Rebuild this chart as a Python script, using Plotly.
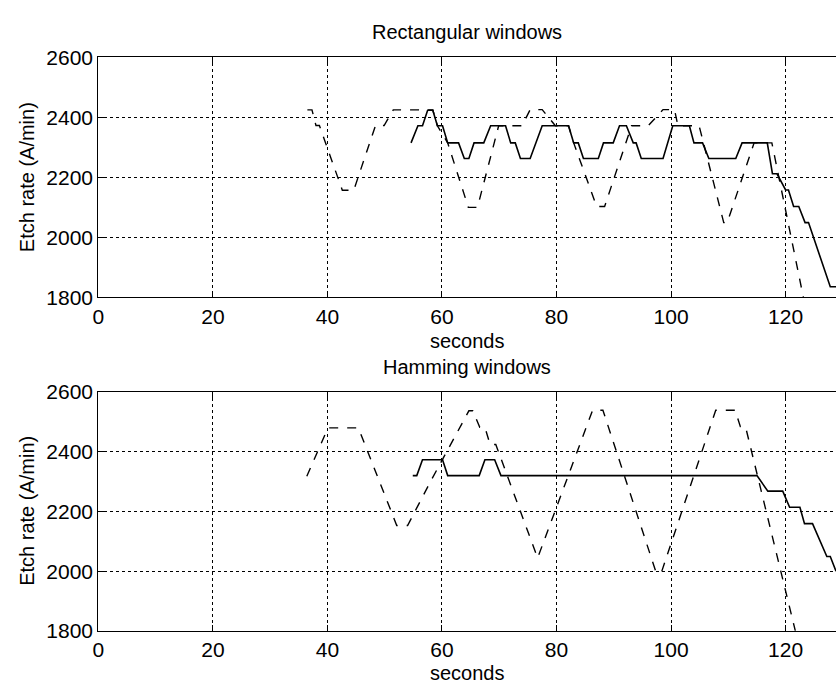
import plotly.graph_objects as go

# ---- Data ----
# Rectangular windows - solid
rect_solid_t = [54.6, 55.8, 56.6, 57.5, 58.4, 59.2, 60.1, 61.0, 62.9, 63.9, 64.7, 65.6, 67.3, 68.5, 71.1,
                72.0, 72.8, 73.7, 75.4, 77.5, 82.1, 83.0, 83.8, 84.7, 87.3, 88.2, 89.9, 91.0, 92.2,
                93.4, 93.9, 94.8, 98.6, 100.3, 103.2, 104.0, 105.5, 106.6, 111.3, 112.4, 116.8,
                117.7, 118.5, 120.0, 120.5, 121.4, 122.3, 123.4, 124.0, 127.8, 128.8]
rect_solid_v = [2315, 2372, 2372, 2424, 2424, 2372, 2372, 2315, 2315, 2263, 2263, 2315, 2315, 2372, 2372,
                2315, 2315, 2263, 2263, 2372, 2372, 2315, 2315, 2263, 2263, 2315, 2315, 2372, 2372,
                2315, 2315, 2263, 2263, 2372, 2372, 2315, 2315, 2263, 2263, 2315, 2315,
                2212, 2212, 2158, 2158, 2103, 2103, 2049, 2049, 1835, 1835]
# Rectangular windows - dashed
rect_dash_t = [36.5, 37.3, 38.0, 38.6, 42.6, 44.6, 48.4, 49.9, 51.5, 55.0, 58.4, 59.2, 61.0, 64.6, 66.2,
               69.9, 74.0, 75.4, 77.5, 79.8, 82.1, 83.0, 87.0, 88.4, 93.1, 96.0, 98.6, 100.6, 101.2,
               104.9, 109.2, 109.8, 114.5, 117.6, 123.1]
rect_dash_v = [2425, 2425, 2373, 2373, 2157, 2157, 2373, 2373, 2425, 2425, 2425, 2372, 2315, 2100, 2100,
               2372, 2372, 2426, 2426, 2372, 2372, 2315, 2103, 2103, 2372, 2372, 2426, 2426, 2372,
               2372, 2049, 2049, 2315, 2315, 1800]
# Hamming windows - solid
ham_solid_t = [54.9, 55.6, 56.6, 60.1, 61.0, 66.5, 67.5, 69.2, 70.3, 115.0, 116.9, 119.5, 120.7, 122.5,
               123.3, 124.7, 127.2, 127.8, 128.8]
ham_solid_v = [2320, 2320, 2373, 2373, 2320, 2320, 2373, 2373, 2320, 2320, 2268, 2268, 2214, 2214,
               2159, 2159, 2049, 2049, 2000]
# Hamming windows - dashed
ham_dash_t = [36.4, 40.1, 45.4, 52.1, 54.0, 58.0, 64.7, 65.4, 66.6, 67.5, 68.4, 69.4, 76.7, 86.3, 88.1,
              97.4, 98.3, 107.8, 111.2, 112.1, 113.0, 121.7]
ham_dash_v = [2318, 2480, 2480, 2153, 2153, 2300, 2537, 2537, 2482, 2482, 2424, 2424, 2044, 2539, 2539,
              1995, 1995, 2539, 2539, 2484, 2484, 1800]

x_ticks = [0, 20, 40, 60, 80, 100, 120]
y_ticks = [1800, 2000, 2200, 2400, 2600]

FONT = "Liberation Sans, Arial, Helvetica, sans-serif"
TICK_SIZE = 21
TEXT_SIZE = 20

fig = go.Figure()
line_solid = dict(color="black", width=1.6)
line_dash = dict(color="black", width=1.4, dash="dash")

fig.add_trace(go.Scatter(x=rect_solid_t, y=rect_solid_v, mode="lines", line=line_solid, xaxis="x", yaxis="y", showlegend=False))
fig.add_trace(go.Scatter(x=rect_dash_t, y=rect_dash_v, mode="lines", line=line_dash, xaxis="x", yaxis="y", showlegend=False))
fig.add_trace(go.Scatter(x=ham_solid_t, y=ham_solid_v, mode="lines", line=line_solid, xaxis="x2", yaxis="y2", showlegend=False))
fig.add_trace(go.Scatter(x=ham_dash_t, y=ham_dash_v, mode="lines", line=line_dash, xaxis="x2", yaxis="y2", showlegend=False))

W, H = 836, 696
x0 = 93 / W
top_dom = [1 - 295 / H, 1 - 47 / H]
bot_dom = [1 - 640 / H, 1 - 393 / H]

def xax(domain_anchor):
    return dict(range=[0, 128.8], tickvals=x_ticks, ticks="inside", ticklen=6, tickcolor="black",
                showline=True, linecolor="black", linewidth=1.2, mirror="ticks",
                showgrid=True, gridcolor="black", griddash="dot", gridwidth=1,
                zeroline=False, domain=[x0, 1.0], anchor=domain_anchor,
                tickfont=dict(family=FONT, size=TICK_SIZE, color="black"))

def yax(anchor, dom):
    return dict(range=[1800, 2600], tickvals=y_ticks, ticks="inside", ticklen=6, tickcolor="black",
                showline=True, linecolor="black", linewidth=1.2,
                showgrid=True, gridcolor="black", griddash="dot", gridwidth=1,
                zeroline=False, domain=dom, anchor=anchor,
                tickfont=dict(family=FONT, size=TICK_SIZE, color="black"))

def label(text, xpx, ypx, angle=0):
    return dict(text=text, x=xpx / W, y=1 - ypx / H, xref="paper", yref="paper", textangle=angle,
                showarrow=False, font=dict(family=FONT, size=TEXT_SIZE, color="black"),
                xanchor="center", yanchor="middle")

xc = (93 + W) / 2
fig.update_layout(
    width=W, height=H,
    margin=dict(l=0, r=0, t=0, b=0),
    paper_bgcolor="white", plot_bgcolor="white",
    xaxis=xax("y"), yaxis=yax("x", top_dom),
    xaxis2=xax("y2"), yaxis2=yax("x2", bot_dom),
    annotations=[
        label("Rectangular windows", xc, 21),
        label("seconds", xc, 340),
        label("Hamming windows", xc, 367),
        label("seconds", xc, 684),
        label("Etch rate (A/min)", 21, 171, -90),
        label("Etch rate (A/min)", 21, 516, -90),
    ],
)

fig.write_html("out.html")
